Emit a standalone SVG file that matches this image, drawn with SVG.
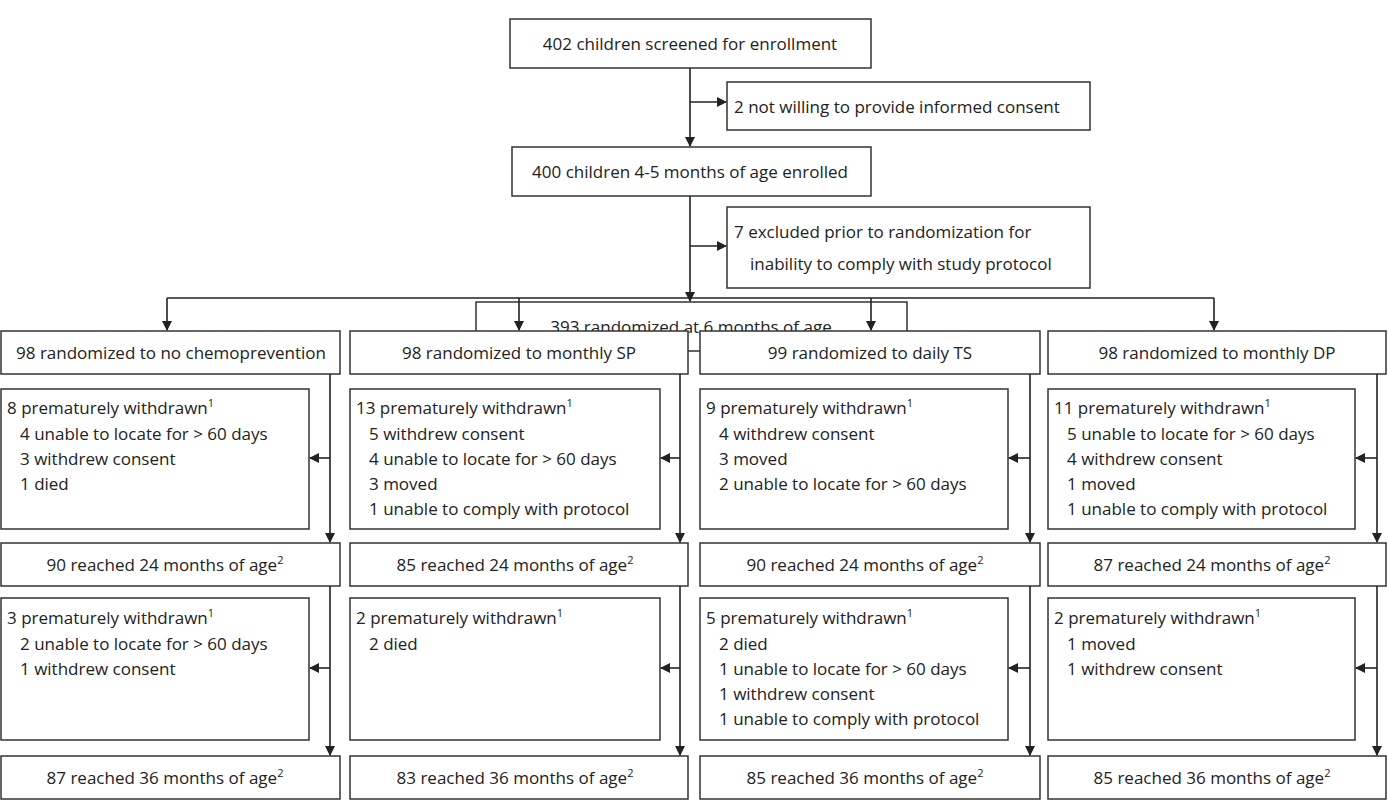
<svg xmlns="http://www.w3.org/2000/svg" width="1388" height="800" viewBox="0 0 1388 800">
<defs><marker id="a" markerWidth="10" markerHeight="10" refX="9" refY="5" orient="auto" markerUnits="userSpaceOnUse"><path d="M0,0 L10,5 L0,10 z" fill="#222"/></marker></defs>
<style>rect{fill:#fff;stroke:#333;stroke-width:1.5}text{font-family:"Open Sans",sans-serif;font-size:17px;fill:#222}.c{text-anchor:middle}line,polyline{stroke:#222;stroke-width:1.6;fill:none}sup,.s{font-size:11px}</style>
<g id="n1"><rect x="510" y="19" width="361" height="49"/><text class="c" x="690" y="50">402 children screened for enrollment</text></g>
<g id="n2"><rect x="727" y="82" width="363" height="48"/><text x="734" y="113">2 not willing to provide informed consent</text></g>
<g id="n3"><rect x="512" y="147" width="359" height="49"/><text class="c" x="690" y="178">400 children 4-5 months of age enrolled</text></g>
<g id="n4"><rect x="727" y="207" width="363" height="81"/><text x="734" y="238">7 excluded prior to randomization for</text><text x="750" y="270">inability to comply with study protocol</text></g>
<g id="n5"><rect x="476" y="302" width="431" height="49"/><text class="c" x="691" y="333">393 randomized at 6 months of age</text></g>
<g id="c1a"><rect x="1" y="331" width="339" height="43"/><text class="c" x="171" y="359">98 randomized to no chemoprevention</text></g>
<g id="c1b"><rect x="1" y="389" width="308" height="140"/><text x="7" y="414">8 premature­ly withdrawn<tspan class="s" dy="-7">1</tspan></text><text x="20" y="440">4 unable to locate for &gt; 60 days</text><text x="20" y="465">3 withdrew consent</text><text x="20" y="490">1 died</text></g>
<g id="c1c"><rect x="1" y="543" width="339" height="43"/><text class="c" x="165" y="571">90 reached 24 months of age<tspan class="s" dy="-7">2</tspan></text></g>
<g id="c1d"><rect x="1" y="598" width="308" height="142"/><text x="7" y="624">3 prematurely withdrawn<tspan class="s" dy="-7">1</tspan></text><text x="20" y="650">2 unable to locate for &gt; 60 days</text><text x="20" y="675">1 withdrew consent</text></g>
<g id="c1e"><rect x="1" y="756" width="339" height="43"/><text class="c" x="165" y="784">87 reached 36 months of age<tspan class="s" dy="-7">2</tspan></text></g>
<g id="c2a"><rect x="350" y="331" width="338" height="43"/><text class="c" x="519" y="359">98 randomized to monthly SP</text></g>
<g id="c2b"><rect x="350" y="389" width="310" height="140"/><text x="356" y="414">13 prematurely withdrawn<tspan class="s" dy="-7">1</tspan></text><text x="369" y="440">5 withdrew consent</text><text x="369" y="465">4 unable to locate for &gt; 60 days</text><text x="369" y="490">3 moved</text><text x="369" y="515">1 unable to comply with protocol</text></g>
<g id="c2c"><rect x="350" y="543" width="338" height="43"/><text class="c" x="515" y="571">85 reached 24 months of age<tspan class="s" dy="-7">2</tspan></text></g>
<g id="c2d"><rect x="350" y="598" width="310" height="142"/><text x="356" y="624">2 prematurely withdrawn<tspan class="s" dy="-7">1</tspan></text><text x="369" y="650">2 died</text></g>
<g id="c2e"><rect x="350" y="756" width="338" height="43"/><text class="c" x="515" y="784">83 reached 36 months of age<tspan class="s" dy="-7">2</tspan></text></g>
<g id="c3a"><rect x="700" y="331" width="340" height="43"/><text class="c" x="870" y="359">99 randomized to daily TS</text></g>
<g id="c3b"><rect x="700" y="389" width="308" height="140"/><text x="706" y="414">9 prematurely withdrawn<tspan class="s" dy="-7">1</tspan></text><text x="719" y="440">4 withdrew consent</text><text x="719" y="465">3 moved</text><text x="719" y="490">2 unable to locate for &gt; 60 days</text></g>
<g id="c3c"><rect x="700" y="543" width="340" height="43"/><text class="c" x="865" y="571">90 reached 24 months of age<tspan class="s" dy="-7">2</tspan></text></g>
<g id="c3d"><rect x="700" y="598" width="308" height="142"/><text x="706" y="624">5 prematurely withdrawn<tspan class="s" dy="-7">1</tspan></text><text x="719" y="650">2 died</text><text x="719" y="675">1 unable to locate for &gt; 60 days</text><text x="719" y="700">1 withdrew consent</text><text x="719" y="725">1 unable to comply with protocol</text></g>
<g id="c3e"><rect x="700" y="756" width="340" height="43"/><text class="c" x="865" y="784">85 reached 36 months of age<tspan class="s" dy="-7">2</tspan></text></g>
<g id="c4a"><rect x="1048" y="331" width="338" height="43"/><text class="c" x="1217" y="359">98 randomized to monthly DP</text></g>
<g id="c4b"><rect x="1048" y="389" width="307" height="140"/><text x="1054" y="414">11 prematurely withdrawn<tspan class="s" dy="-7">1</tspan></text><text x="1067" y="440">5 unable to locate for &gt; 60 days</text><text x="1067" y="465">4 withdrew consent</text><text x="1067" y="490">1 moved</text><text x="1067" y="515">1 unable to comply with protocol</text></g>
<g id="c4c"><rect x="1048" y="543" width="338" height="43"/><text class="c" x="1212" y="571">87 reached 24 months of age<tspan class="s" dy="-7">2</tspan></text></g>
<g id="c4d"><rect x="1048" y="598" width="307" height="142"/><text x="1054" y="624">2 prematurely withdrawn<tspan class="s" dy="-7">1</tspan></text><text x="1067" y="650">1 moved</text><text x="1067" y="675">1 withdrew consent</text></g>
<g id="c4e"><rect x="1048" y="756" width="338" height="43"/><text class="c" x="1212" y="784">85 reached 36 months of age<tspan class="s" dy="-7">2</tspan></text></g>
<g id="connectors">
<line x1="690" y1="68" x2="690" y2="146" marker-end="url(#a)"/><line x1="690" y1="102" x2="726" y2="102" marker-end="url(#a)"/>
<line x1="690" y1="196" x2="690" y2="301" marker-end="url(#a)"/><line x1="690" y1="246" x2="726" y2="246" marker-end="url(#a)"/>
<line x1="167" y1="298" x2="1214" y2="298"/>
<line x1="167" y1="298" x2="167" y2="330" marker-end="url(#a)"/><line x1="519" y1="298" x2="519" y2="330" marker-end="url(#a)"/><line x1="871" y1="298" x2="871" y2="330" marker-end="url(#a)"/><line x1="1214" y1="298" x2="1214" y2="330" marker-end="url(#a)"/>
<line x1="330" y1="374" x2="330" y2="542" marker-end="url(#a)"/><line x1="330" y1="458" x2="310" y2="458" marker-end="url(#a)"/>
<line x1="330" y1="586" x2="330" y2="755" marker-end="url(#a)"/><line x1="330" y1="668" x2="310" y2="668" marker-end="url(#a)"/>
<line x1="680" y1="374" x2="680" y2="542" marker-end="url(#a)"/><line x1="680" y1="458" x2="661" y2="458" marker-end="url(#a)"/>
<line x1="680" y1="586" x2="680" y2="755" marker-end="url(#a)"/><line x1="680" y1="668" x2="661" y2="668" marker-end="url(#a)"/>
<line x1="1030" y1="374" x2="1030" y2="542" marker-end="url(#a)"/><line x1="1030" y1="458" x2="1009" y2="458" marker-end="url(#a)"/>
<line x1="1030" y1="586" x2="1030" y2="755" marker-end="url(#a)"/><line x1="1030" y1="668" x2="1009" y2="668" marker-end="url(#a)"/>
<line x1="1377" y1="374" x2="1377" y2="542" marker-end="url(#a)"/><line x1="1377" y1="458" x2="1356" y2="458" marker-end="url(#a)"/>
<line x1="1377" y1="586" x2="1377" y2="755" marker-end="url(#a)"/><line x1="1377" y1="668" x2="1356" y2="668" marker-end="url(#a)"/>
</g>
</svg>
